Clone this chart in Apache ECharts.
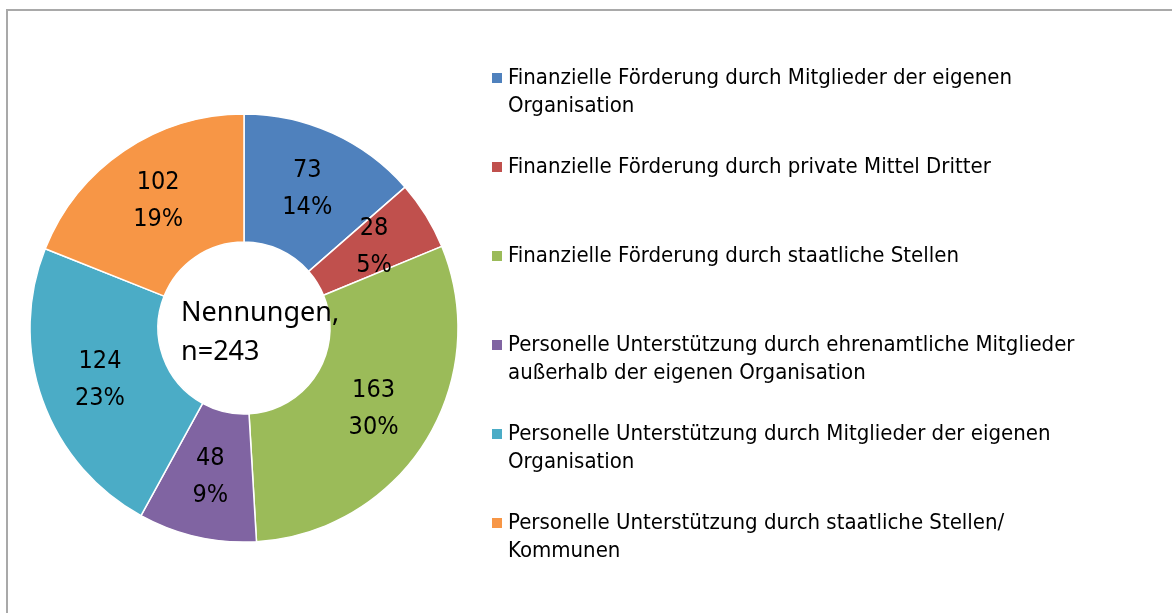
<!DOCTYPE html>
<html>
<head>
<meta charset="utf-8">
<title>Nennungen</title>
<script src="https://cdn.jsdelivr.net/npm/echarts@6/dist/echarts.min.js"></script>
<style>
    html, body { margin: 0; padding: 0; background: #fff; overflow: hidden; }
    #frame {
        position: absolute; left: 6px; top: 9px;
        width: 1300px; height: 700px;
        border-left: 2px solid #a9a9a9; border-top: 2px solid #a9a9a9;
    }
    #chart { position: absolute; left: 0; top: 0; width: 1172px; height: 613px; }
</style>
</head>
<body>
<div id="frame"></div>
<div id="chart"></div>
<script>
// Categories (legend order) and counts
const categories = [
    "Finanzielle Förderung durch Mitglieder der eigenen Organisation",
    "Finanzielle Förderung durch private Mittel Dritter",
    "Finanzielle Förderung durch staatliche Stellen",
    "Personelle Unterstützung durch ehrenamtliche Mitglieder außerhalb der eigenen Organisation",
    "Personelle Unterstützung durch Mitglieder der eigenen Organisation",
    "Personelle Unterstützung durch staatliche Stellen/ Kommunen"
];
// How the legend wraps each name
const legendLines = [
    ["Finanzielle Förderung durch Mitglieder der eigenen", "Organisation"],
    ["Finanzielle Förderung durch private Mittel Dritter"],
    ["Finanzielle Förderung durch staatliche Stellen"],
    ["Personelle Unterstützung durch ehrenamtliche Mitglieder", "außerhalb der eigenen Organisation"],
    ["Personelle Unterstützung durch Mitglieder der eigenen", "Organisation"],
    ["Personelle Unterstützung durch staatliche Stellen/", "Kommunen"]
];
const counts = [73, 28, 163, 48, 124, 102];
const colors = ["#4F81BD", "#C0504D", "#9BBB59", "#8064A2", "#4BACC6", "#F79646"];
const respondents = 243;

document.addEventListener("DOMContentLoaded", function () {
    var chart = echarts.init(document.getElementById("chart"));

    // every legend item gets 3 lines so the icon sits next to the first text line
    function legendText(name) {
        var lines = legendLines[categories.indexOf(name)];
        if (lines.length === 1) return "\n" + lines[0] + "\n";
        return "\n" + lines[0] + "\n" + lines[1];
    }

    var option = {
        animation: false,
        color: colors,
        legend: {
            orient: "vertical",
            left: 490,
            top: 36,
            padding: 0,
            itemGap: 5,
            itemWidth: 12,
            itemHeight: 12,
            icon: "rect",
            data: categories,
            formatter: legendText,
            textStyle: {
                fontFamily: "'Liberation Sans Narrow', 'DejaVu Sans Condensed', sans-serif",
                fontSize: 22,
                lineHeight: 28,
                color: "#000"
            }
        },
        graphic: [{
            type: "text",
            left: 181,
            top: 294,
            z: 100,
            style: {
                text: "Nennungen,\nn=" + respondents,
                font: "27px 'Noto Sans'",
                lineHeight: 39,
                fill: "#000"
            }
        }],
        series: [{
            type: "pie",
            center: [244, 328],
            radius: [86, 214],
            startAngle: 90,
            clockwise: true,
            avoidLabelOverlap: false,
            itemStyle: { borderColor: "#fff", borderWidth: 1.5 },
            label: {
                show: true,
                position: "inside",
                formatter: function (p) { return p.value + "\n" + Math.round(p.percent) + "%"; },
                fontFamily: "'Liberation Sans Narrow', 'DejaVu Sans Condensed', sans-serif",
                fontSize: 25,
                lineHeight: 37,
                color: "#000"
            },
            labelLine: { show: false },
            emphasis: { disabled: true },
            data: categories.map(function (c, i) { return { name: c, value: counts[i] }; })
        }]
    };

    chart.setOption(option);
});
</script>
</body>
</html>
